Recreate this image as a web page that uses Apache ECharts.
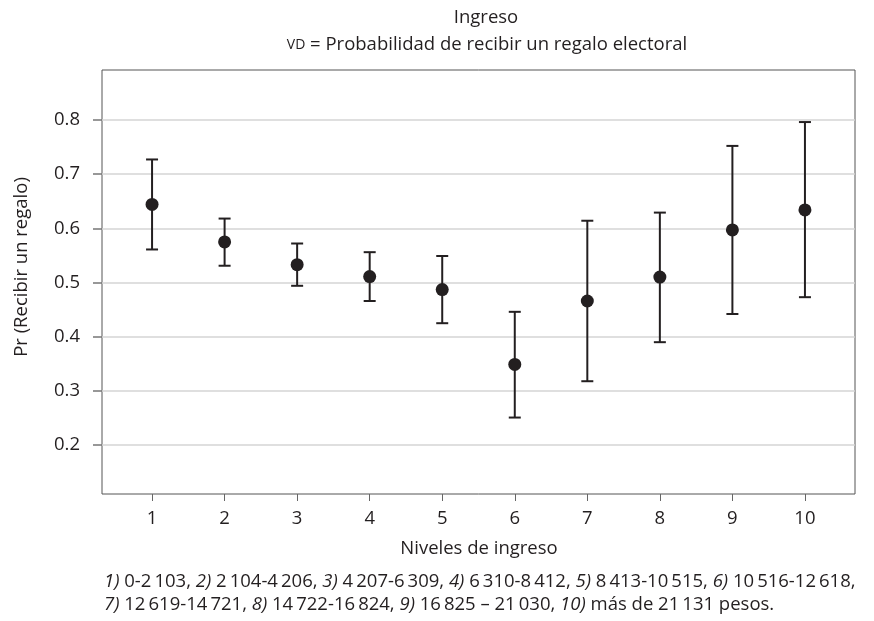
<!DOCTYPE html>
<html><head><meta charset="utf-8">
<script src="https://cdn.jsdelivr.net/npm/echarts@6/dist/echarts.min.js"></script>
<style>html,body{margin:0;padding:0;background:#fff}#c{width:874px;height:621px}</style>
</head><body><div id="c"></div>
<script>
const levels = [1,2,3,4,5,6,7,8,9,10];
const estimates = [0.644,0.575,0.533,0.511,0.487,0.349,0.466,0.510,0.597,0.634];
const lowerCI = [0.561,0.531,0.494,0.466,0.425,0.251,0.318,0.390,0.442,0.473];
const upperCI = [0.727,0.618,0.572,0.556,0.549,0.446,0.614,0.629,0.752,0.796];
const yTicks = [0.2,0.3,0.4,0.5,0.6,0.7,0.8];
const titleText = 'Ingreso';
const subtitleText = 'Probabilidad de recibir un regalo electoral';
const yName = 'Pr (Recibir un regalo)';
const xName = 'Niveles de ingreso';

const FONT = '"Open Sans",sans-serif';
const INK = '#231f20';
const FS = 18.5;
const chart = echarts.init(document.getElementById('c'));

const barData = levels.map((l,i)=>[l, lowerCI[i], upperCI[i]]);
const pointData = levels.map((l,i)=>[l, estimates[i]]);
const italic = {fontStyle:'italic',fontSize:FS,fontFamily:FONT,fill:INK};

chart.setOption({
  animation:false,
  grid:{left:102,right:19,top:70,bottom:127,show:true,borderColor:'#555',borderWidth:1},
  xAxis:{type:'value',min:0.31,max:10.69,
    axisLine:{show:false},
    axisTick:{show:true,customValues:levels,length:7,lineStyle:{color:'#666',width:1}},
    axisLabel:{customValues:levels,color:INK,fontSize:FS,fontFamily:FONT,margin:15},
    splitLine:{show:false}},
  yAxis:{type:'value',min:0.11,max:0.892,
    axisLine:{show:false},
    axisTick:{show:true,customValues:yTicks,length:9,lineStyle:{color:'#777',width:1.5}},
    axisLabel:{customValues:yTicks,color:INK,fontSize:FS,fontFamily:FONT,margin:22,
      formatter:v=>v.toFixed(1)},
    splitLine:{show:true,lineStyle:{color:'#d4d4d4',width:1.5}}},
  graphic:[
    {type:'text',style:{text:titleText,x:486,y:18,fill:INK,font:FS+'px '+FONT,align:'center',verticalAlign:'middle'}},
    {type:'text',style:{text:'{sc|VD} = '+subtitleText,rich:{sc:{fontSize:14,fontFamily:FONT,fill:INK}},x:487,y:45,fill:INK,font:FS+'px '+FONT,align:'center',verticalAlign:'middle'}},
    {type:'text',rotation:Math.PI/2,x:22,y:267,style:{text:yName,fill:INK,font:FS+'px '+FONT,align:'center',verticalAlign:'middle'}},
    {type:'text',style:{text:xName,x:479,y:549,fill:INK,font:FS+'px '+FONT,align:'center',verticalAlign:'middle'}},
    {type:'text',style:{x:104,y:582,verticalAlign:'middle',fill:INK,font:FS+'px '+FONT,
      text:'{i|1)} 0-2\u2009103, {i|2)} 2\u2009104-4\u2009206, {i|3)} 4\u2009207-6\u2009309, {i|4)} 6\u2009310-8\u2009412, {i|5)} 8\u2009413-10\u2009515, {i|6)} 10\u2009516-12\u2009618,',
      rich:{i:italic}}},
    {type:'text',style:{x:104,y:605,verticalAlign:'middle',fill:INK,font:FS+'px '+FONT,
      text:'{i|7)} 12\u2009619-14\u2009721, {i|8)} 14\u2009722-16\u2009824, {i|9)} 16\u2009825 \u2013 21\u2009030, {i|10)} más de 21\u2009131 pesos.',
      rich:{i:italic}}}
  ],
  series:[
    {type:'custom',data:barData,z:2,
      renderItem:(params,api)=>{
        const x=api.value(0);
        const lo=api.coord([x,api.value(1)]);
        const hi=api.coord([x,api.value(2)]);
        const w=6;
        const st={stroke:INK,lineWidth:2};
        return {type:'group',children:[
          {type:'line',shape:{x1:lo[0],y1:lo[1],x2:hi[0],y2:hi[1]},style:st},
          {type:'line',shape:{x1:lo[0]-w,y1:lo[1],x2:lo[0]+w,y2:lo[1]},style:st},
          {type:'line',shape:{x1:hi[0]-w,y1:hi[1],x2:hi[0]+w,y2:hi[1]},style:st}
        ]};
      }},
    {type:'scatter',data:pointData,z:3,symbol:'circle',symbolSize:13,itemStyle:{color:INK,opacity:1}}
  ]
});
</script></body></html>
